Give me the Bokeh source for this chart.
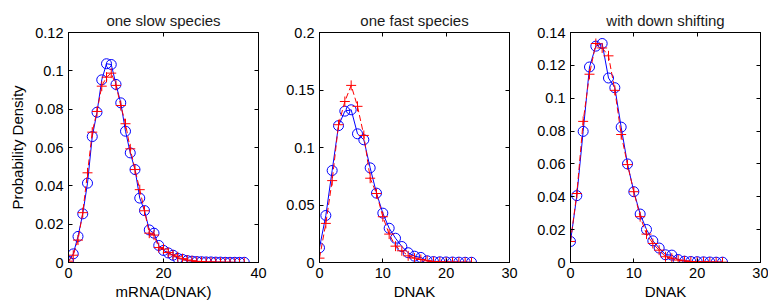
from bokeh.plotting import figure
from bokeh.layouts import row
from bokeh.models import Range1d, LinearAxis, FixedTicker, CustomJSTickFormatter
from bokeh.embed import file_html
from bokeh.resources import INLINE

# ---------------- data ----------------
titles = ["one slow species", "one fast species", "with down shifting"]
xlabels = ["mRNA(DNAK)", "DNAK", "DNAK"]
ylabel = "Probability Density"

x1 = list(range(0, 38))
blue1 = [0.0007, 0.0045, 0.0136, 0.0254, 0.0414, 0.0657, 0.0784, 0.0953, 0.1037, 0.1033,
         0.0929, 0.0833, 0.0685, 0.0572, 0.0485, 0.0336, 0.0271, 0.0170, 0.0153, 0.0089,
         0.0063, 0.0050, 0.0038, 0.0022, 0.0016, 0.0010, 0.0007, 0.0005, 0.0004, 0.0003,
         0.0003, 0.0002, 0.0002, 0.0001, 0.0001, 0.0001, 0.0001, 0.0001]
red1 = [0.0007, 0.0038, 0.0117, 0.0260, 0.0468, 0.0680, 0.0788, 0.0920, 0.0967, 0.0988,
        0.0924, 0.0819, 0.0724, 0.0593, 0.0485, 0.0380, 0.0270, 0.0153, 0.0143, 0.0078,
        0.0070, 0.0052, 0.0040, 0.0030, 0.0020, 0.0013, 0.0009, 0.0006, 0.0004, 0.0003,
        0.0002, 0.0002, 0.0001, 0.0001, 0.0001, 0.0000, 0.0000, 0.0000]

x2 = list(range(0, 25))
blue2 = [0.0128, 0.0409, 0.0800, 0.1190, 0.1316, 0.1328, 0.1119, 0.1067, 0.0823, 0.0603,
         0.0429, 0.0298, 0.0211, 0.0139, 0.0085, 0.0055, 0.0044, 0.0015, 0.0008, 0.0006,
         0.0005, 0.0004, 0.0003, 0.0002, 0.0002]
red2 = [0.0038, 0.0340, 0.0712, 0.1198, 0.1400, 0.1540, 0.1358, 0.1105, 0.0733, 0.0600,
        0.0398, 0.0247, 0.0142, 0.0102, 0.0058, 0.0038, 0.0026, 0.0015, 0.0008, 0.0006,
        0.0004, 0.0003, 0.0002, 0.0002, 0.0001]

x3 = list(range(0, 25))
blue3 = [0.0128, 0.0407, 0.0798, 0.1190, 0.1317, 0.1333, 0.1123, 0.1064, 0.0824, 0.0600,
         0.0431, 0.0295, 0.0201, 0.0132, 0.0088, 0.0047, 0.0045, 0.0018, 0.0008, 0.0006,
         0.0005, 0.0004, 0.0003, 0.0002, 0.0002]
red3 = [0.0128, 0.0420, 0.0859, 0.1146, 0.1333, 0.1306, 0.1258, 0.1048, 0.0779, 0.0596,
        0.0431, 0.0279, 0.0173, 0.0116, 0.0075, 0.0035, 0.0026, 0.0015, 0.0010, 0.0006,
        0.0005, 0.0004, 0.0003, 0.0002, 0.0002]

xmax = [40, 30, 30]
ymax = [0.12, 0.2, 0.14]
xticks = [[0, 20, 40], [0, 10, 20, 30], [0, 10, 20, 30]]
yticks = [[0, 0.02, 0.04, 0.06, 0.08, 0.1, 0.12],
          [0, 0.05, 0.1, 0.15, 0.2],
          [0, 0.02, 0.04, 0.06, 0.08, 0.1, 0.12, 0.14]]

# ---------------- layout ----------------
FONT = "Liberation Sans"
borders = [(68, 20), (41, 20), (41, 8)]
FRAME_W = 190
FRAME_H = 230
TOP = 32
BOTTOM = 44

fmt = CustomJSTickFormatter(code="return String(parseFloat(tick.toPrecision(6)));")
blank = CustomJSTickFormatter(code="return '';")

def style_axis(ax, show_labels):
    ax.major_tick_in = 4
    ax.major_tick_out = 0
    ax.minor_tick_line_color = None
    ax.axis_line_color = "black"
    ax.major_tick_line_color = "black"
    ax.major_label_text_font = FONT
    ax.major_label_text_color = "black"
    ax.axis_label_text_font = FONT
    ax.axis_label_text_font_style = "normal"
    ax.axis_label_text_color = "black"
    ax.major_label_text_font_size = "14.5px"
    ax.axis_label_text_font_size = "15px"
    if not show_labels:
        ax.formatter = blank
        ax.major_label_standoff = 0

datasets = [(x1, blue1, red1), (x2, blue2, red2), (x3, blue3, red3)]
figs = []
for i, (xs, bl, rd) in enumerate(datasets):
    lb, rb = borders[i]
    p = figure(width=lb + FRAME_W + rb, height=TOP + FRAME_H + BOTTOM,
               x_range=Range1d(0, xmax[i]), y_range=Range1d(0, ymax[i]),
               output_backend="svg", toolbar_location=None,
               min_border_left=lb, min_border_right=rb,
               min_border_top=TOP, min_border_bottom=BOTTOM)
    p.title.text = titles[i]
    p.title.align = "center"
    p.title.text_font = FONT
    p.title.text_font_size = "15px"
    p.title.text_font_style = "normal"
    p.title.text_color = "#1a1a1a"
    p.title.standoff = 8
    p.grid.visible = False
    p.outline_line_color = "black"
    p.background_fill_color = "white"
    p.border_fill_color = "white"

    p.xaxis.ticker = FixedTicker(ticks=xticks[i])
    p.yaxis.ticker = FixedTicker(ticks=yticks[i])
    p.yaxis.formatter = fmt
    p.xaxis.formatter = fmt
    p.xaxis.axis_label = xlabels[i]
    if i == 0:
        p.yaxis.axis_label = ylabel
    for ax in p.xaxis + p.yaxis:
        style_axis(ax, True)
    p.xaxis.major_label_standoff = 5
    p.xaxis.axis_label_standoff = 2
    p.yaxis.major_label_standoff = 5
    p.yaxis.axis_label_standoff = 6

    rax = LinearAxis(ticker=FixedTicker(ticks=yticks[i]))
    style_axis(rax, False)
    p.add_layout(rax, "right")
    tax = LinearAxis(ticker=FixedTicker(ticks=xticks[i]))
    style_axis(tax, False)
    p.add_layout(tax, "above")

    p.line(xs, bl, line_color="#0000ff", line_width=1)
    p.scatter(xs, bl, marker="circle", size=10, fill_color=None,
              line_color="#0000ff", line_width=1)
    p.line(xs, rd, line_color="#ff0000", line_width=1, line_dash="6 3")
    p.scatter(xs, rd, marker="cross", size=10, line_color="#ff0000", line_width=1)
    figs.append(p)

layout = row(*figs, spacing=0)
open("out.html", "w").write(file_html(layout, INLINE))
